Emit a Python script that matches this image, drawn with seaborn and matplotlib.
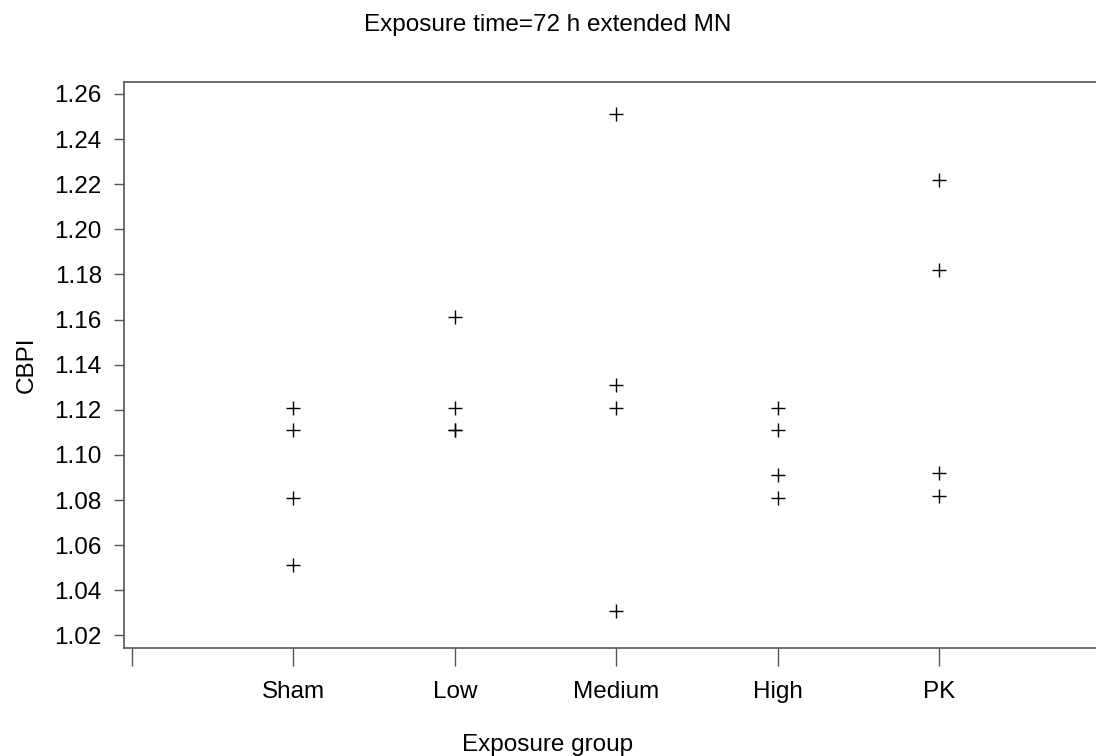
#!/usr/bin/env python3
"""CBPI by exposure group, 72 h extended MN."""

import matplotlib
matplotlib.use("Agg")
import matplotlib.pyplot as plt
import seaborn as sns
import pandas as pd

# values
groups = ["Sham", "Low", "Medium", "High", "PK"]
sham = [1.121, 1.111, 1.081, 1.051]
low = [1.161, 1.121, 1.111, 1.111]
medium = [1.251, 1.131, 1.121, 1.031]
high = [1.121, 1.111, 1.091, 1.081]
pk = [1.222, 1.182, 1.092, 1.082]
y_ticks = [1.02, 1.04, 1.06, 1.08, 1.10, 1.12, 1.14, 1.16, 1.18, 1.20, 1.22, 1.24, 1.26]

rows = []
for name, vals in zip(groups, [sham, low, medium, high, pk]):
    for v in vals:
        rows.append({"group": name, "cbpi": v})
df = pd.DataFrame(rows)

sns.set_theme(style="white")
plt.rcParams["font.family"] = ["Liberation Sans", "DejaVu Sans"]
plt.rcParams["text.color"] = "black"
plt.rcParams["axes.labelcolor"] = "black"
plt.rcParams["xtick.color"] = "black"
plt.rcParams["ytick.color"] = "black"

FS = 17.5

fig = plt.figure(figsize=(10.96, 7.56), dpi=100)
# axes run slightly past the right edge, like the original
ax = fig.add_axes([124 / 1096, 1 - 648 / 756, (1100.5 - 124) / 1096, (648 - 82) / 756])

# blank first slot gives the unlabeled tick at the left
order = [" "] + groups
sns.stripplot(data=df, x="group", y="cbpi", order=order, jitter=False,
              marker="+", color="black", size=10, linewidth=1, ax=ax)

ax.set_xlim(-0.05, 6.0)
ax.set_ylim(1.0144, 1.2653)
ax.set_yticks(y_ticks)
ax.set_yticklabels([f"{t:.2f}" for t in y_ticks])
ax.set_xticks(range(len(order)))
ax.set_xticklabels([""] + groups)

for side in ["left", "top", "bottom", "right"]:
    ax.spines[side].set_color("#555555")
    ax.spines[side].set_linewidth(1.2)
    ax.spines[side].set_visible(True)

ax.tick_params(axis="y", left=True, length=7, width=1, color="#555555",
               labelcolor="black", labelsize=FS, pad=9)
ax.tick_params(axis="x", bottom=True, length=13, width=1, color="#555555",
               labelcolor="black", labelsize=FS, pad=11)

ax.set_xlabel("")
ax.set_ylabel("CBPI", fontsize=FS, labelpad=12)

fig.text(0.5, 1 - 25 / 756, "Exposure time=72 h extended MN",
         ha="center", va="center", fontsize=FS)
fig.text(0.5, 1 - 745 / 756, "Exposure group", ha="center", va="center",
         fontsize=FS)

fig.savefig("out.png", dpi=100)
plt.close(fig)
